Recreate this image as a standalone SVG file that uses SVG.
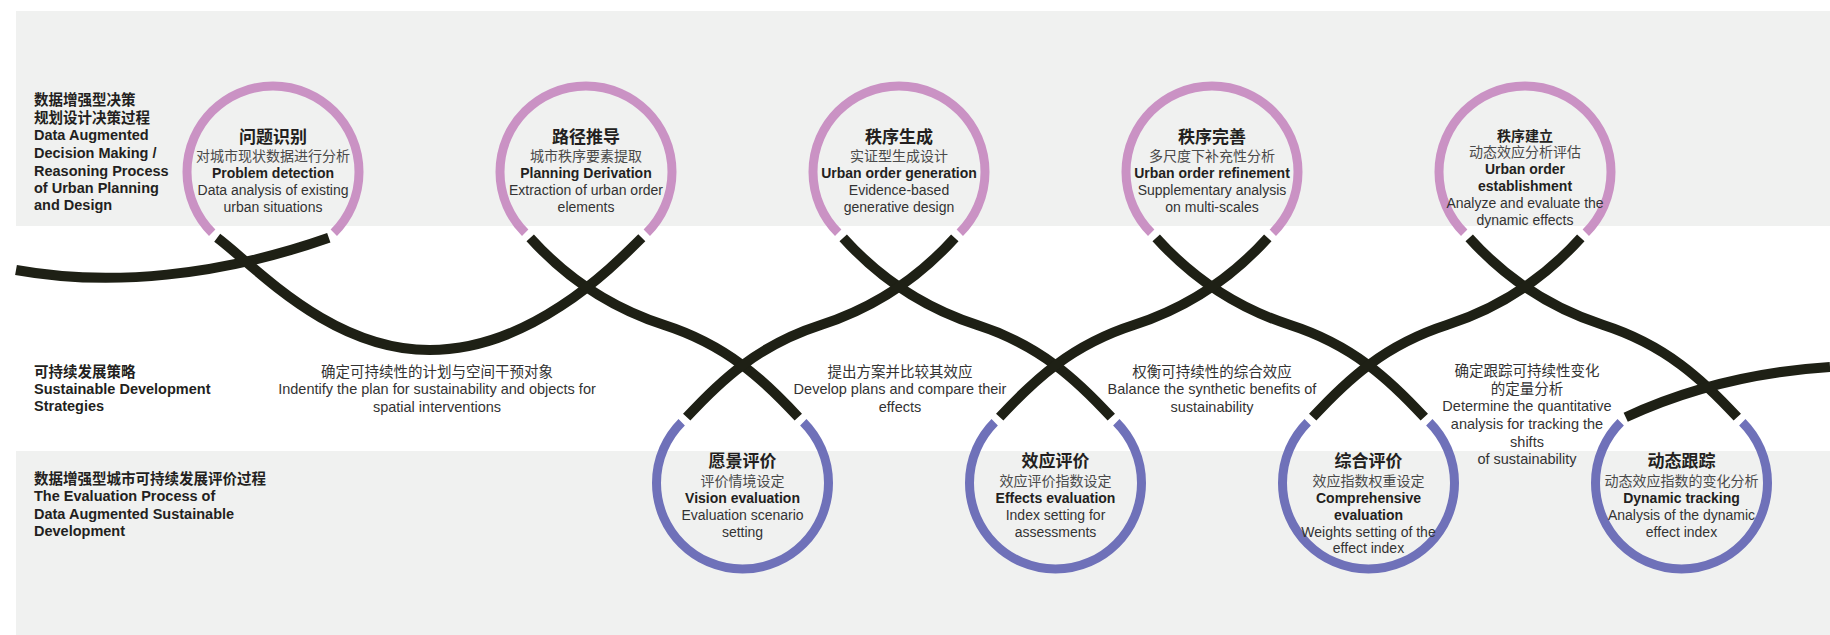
<svg xmlns="http://www.w3.org/2000/svg" width="1830" height="635" viewBox="0 0 1830 635">
<style>
.band{fill:#f0f1f0}
.top{fill:none;stroke:#ca92c4;stroke-width:9}
.bot{fill:none;stroke:#6f71b9;stroke-width:9}
.strand{fill:none;stroke:#1e2015;stroke-width:10;stroke-linecap:butt}
text{font-family:"Liberation Sans","Noto Sans CJK SC",sans-serif}
.lbl{font-size:14.5px;font-weight:bold;fill:#231f20}
.ttl{font-size:17px;font-weight:bold;fill:#231f20;text-anchor:middle}
.ttl2{font-size:14px;font-weight:bold;fill:#231f20;text-anchor:middle}
.cn{font-size:14px;fill:#4a4a4a;text-anchor:middle}
.b{font-size:14px;font-weight:bold;fill:#231f20;text-anchor:middle}
.r{font-size:14px;fill:#333;text-anchor:middle}
.mid{font-size:14.5px;fill:#333;text-anchor:middle}
</style>
<rect width="1830" height="635" fill="#ffffff"/>
<g id="bands">
<rect class="band" x="16" y="11" width="1814" height="215"/>
<rect class="band" x="16" y="451" width="1814" height="184"/>
</g>
<g id="row-labels">
<text class="lbl" x="34"><tspan x="34" y="104.8">数据增强型决策</tspan><tspan x="34" y="122.5">规划设计决策过程</tspan><tspan x="34" y="140.2">Data Augmented</tspan><tspan x="34" y="157.9">Decision Making /</tspan><tspan x="34" y="175.5">Reasoning Process</tspan><tspan x="34" y="192.9">of Urban Planning</tspan><tspan x="34" y="210.2">and Design</tspan></text>
<text class="lbl" x="34"><tspan x="34" y="377.2">可持续发展策略</tspan><tspan x="34" y="394.2">Sustainable Development</tspan><tspan x="34" y="411.2">Strategies</tspan></text>
<text class="lbl" x="34"><tspan x="34" y="483.8">数据增强型城市可持续发展评价过程</tspan><tspan x="34" y="501.2">The Evaluation Process of</tspan><tspan x="34" y="518.5">Data Augmented Sustainable</tspan><tspan x="34" y="536">Development</tspan></text>
</g>
<g id="connectors">
<path class="strand" d="M16,270 C110,287 220,276 328.8,237.8"/>
<path class="strand" d="M217.2,237.8 C255,266 330,350 429.5,350 C529,350 609,270.5 641.8,237.8"/>
<path class="strand" d="M530.2,237.8 C561,272 602,305 664.25,325 C726.5,345 764,380 798.3,417.2"/>
<path class="strand" d="M843.2,237.8 C874,272 915,305 977.25,325 C1039.5,345 1077,380 1111.3,417.2"/>
<path class="strand" d="M1156.2,237.8 C1187,272 1228,305 1290.25,325 C1352.5,345 1390,380 1424.3,417.2"/>
<path class="strand" d="M1469.2,237.8 C1500,272 1541,305 1603.25,325 C1665.5,345 1703,380 1737.3,417.2"/>
<path class="strand" d="M954.8,237.8 C924,272 883,305 820.75,325 C758.5,345 721,380 686.7,417.2"/>
<path class="strand" d="M1267.8,237.8 C1237,272 1196,305 1133.75,325 C1071.5,345 1034,380 999.7,417.2"/>
<path class="strand" d="M1580.8,237.8 C1550,272 1509,305 1446.75,325 C1384.5,345 1347,380 1312.7,417.2"/>
<path class="strand" d="M1625.7,417.2 C1680,392 1750,372 1830,367"/>
</g>
<g id="mid-texts">
<text class="mid"><tspan x="437" y="376.5">确定可持续性的计划与空间干预对象</tspan><tspan x="437" y="394.2">Indentify the plan for sustainability and objects for</tspan><tspan x="437" y="411.5">spatial interventions</tspan></text>
<text class="mid"><tspan x="900" y="376.5">提出方案并比较其效应</tspan><tspan x="900" y="394.2">Develop plans and compare their</tspan><tspan x="900" y="411.5">effects</tspan></text>
<text class="mid"><tspan x="1212" y="376.5">权衡可持续性的综合效应</tspan><tspan x="1212" y="394.2">Balance the synthetic benefits of</tspan><tspan x="1212" y="411.5">sustainability</tspan></text>
<text class="mid"><tspan x="1527" y="376.2">确定跟踪可持续性变化</tspan><tspan x="1527" y="393.8">的定量分析</tspan><tspan x="1527" y="411">Determine the quantitative</tspan><tspan x="1527" y="429">analysis for tracking the</tspan><tspan x="1527" y="446.5">shifts</tspan><tspan x="1527" y="464.3">of sustainability</tspan></text>
</g>
<g id="node-problem-detection">
<path class="top" d="M212.2,232.8 A86,86 0 1 1 333.8,232.8"/>
<text class="ttl" x="273" y="143">问题识别</text>
<text class="cn" x="273" y="161">对城市现状数据进行分析</text>
<text class="b" x="273" y="177.5">Problem detection</text>
<text class="r" x="273" y="194.5">Data analysis of existing</text>
<text class="r" x="273" y="211.5">urban situations</text>
</g>
<g id="node-planning-derivation">
<path class="top" d="M525.2,232.8 A86,86 0 1 1 646.8,232.8"/>
<text class="ttl" x="586" y="143">路径推导</text>
<text class="cn" x="586" y="161">城市秩序要素提取</text>
<text class="b" x="586" y="177.5">Planning Derivation</text>
<text class="r" x="586" y="194.5">Extraction of urban order</text>
<text class="r" x="586" y="211.5">elements</text>
</g>
<g id="node-urban-order-generation">
<path class="top" d="M838.2,232.8 A86,86 0 1 1 959.8,232.8"/>
<text class="ttl" x="899" y="143">秩序生成</text>
<text class="cn" x="899" y="161">实证型生成设计</text>
<text class="b" x="899" y="177.5">Urban order generation</text>
<text class="r" x="899" y="194.5">Evidence-based</text>
<text class="r" x="899" y="211.5">generative design</text>
</g>
<g id="node-urban-order-refinement">
<path class="top" d="M1151.2,232.8 A86,86 0 1 1 1272.8,232.8"/>
<text class="ttl" x="1212" y="143">秩序完善</text>
<text class="cn" x="1212" y="161">多尺度下补充性分析</text>
<text class="b" x="1212" y="177.5">Urban order refinement</text>
<text class="r" x="1212" y="194.5">Supplementary analysis</text>
<text class="r" x="1212" y="211.5">on multi-scales</text>
</g>
<g id="node-urban-order-establishment">
<path class="top" d="M1464.2,232.8 A86,86 0 1 1 1585.8,232.8"/>
<text class="ttl2" x="1525" y="140.5">秩序建立</text>
<text class="cn" x="1525" y="157">动态效应分析评估</text>
<text class="b" x="1525" y="174">Urban order</text>
<text class="b" x="1525" y="191">establishment</text>
<text class="r" x="1525" y="208">Analyze and evaluate the</text>
<text class="r" x="1525" y="224.5">dynamic effects</text>
</g>
<g id="node-vision-evaluation">
<path class="bot" d="M681.7,422.2 A86,86 0 1 0 803.3,422.2"/>
<text class="ttl" x="742.5" y="467">愿景评价</text>
<text class="cn" x="742.5" y="485.5">评价情境设定</text>
<text class="b" x="742.5" y="502.5">Vision evaluation</text>
<text class="r" x="742.5" y="519.5">Evaluation scenario</text>
<text class="r" x="742.5" y="536.5">setting</text>
</g>
<g id="node-effects-evaluation">
<path class="bot" d="M994.7,422.2 A86,86 0 1 0 1116.3,422.2"/>
<text class="ttl" x="1055.5" y="467">效应评价</text>
<text class="cn" x="1055.5" y="485.5">效应评价指数设定</text>
<text class="b" x="1055.5" y="502.5">Effects evaluation</text>
<text class="r" x="1055.5" y="519.5">Index setting for</text>
<text class="r" x="1055.5" y="536.5">assessments</text>
</g>
<g id="node-comprehensive-evaluation">
<path class="bot" d="M1307.7,422.2 A86,86 0 1 0 1429.3,422.2"/>
<text class="ttl" x="1368.5" y="467">综合评价</text>
<text class="cn" x="1368.5" y="485.5">效应指数权重设定</text>
<text class="b" x="1368.5" y="502.5">Comprehensive</text>
<text class="b" x="1368.5" y="519.5">evaluation</text>
<text class="r" x="1368.5" y="536.5">Weights setting of the</text>
<text class="r" x="1368.5" y="553">effect index</text>
</g>
<g id="node-dynamic-tracking">
<path class="bot" d="M1620.7,422.2 A86,86 0 1 0 1742.3,422.2"/>
<text class="ttl" x="1681.5" y="467">动态跟踪</text>
<text class="cn" x="1681.5" y="485.5">动态效应指数的变化分析</text>
<text class="b" x="1681.5" y="502.5">Dynamic tracking</text>
<text class="r" x="1681.5" y="519.5">Analysis of the dynamic</text>
<text class="r" x="1681.5" y="536.5">effect index</text>
</g>
</svg>
